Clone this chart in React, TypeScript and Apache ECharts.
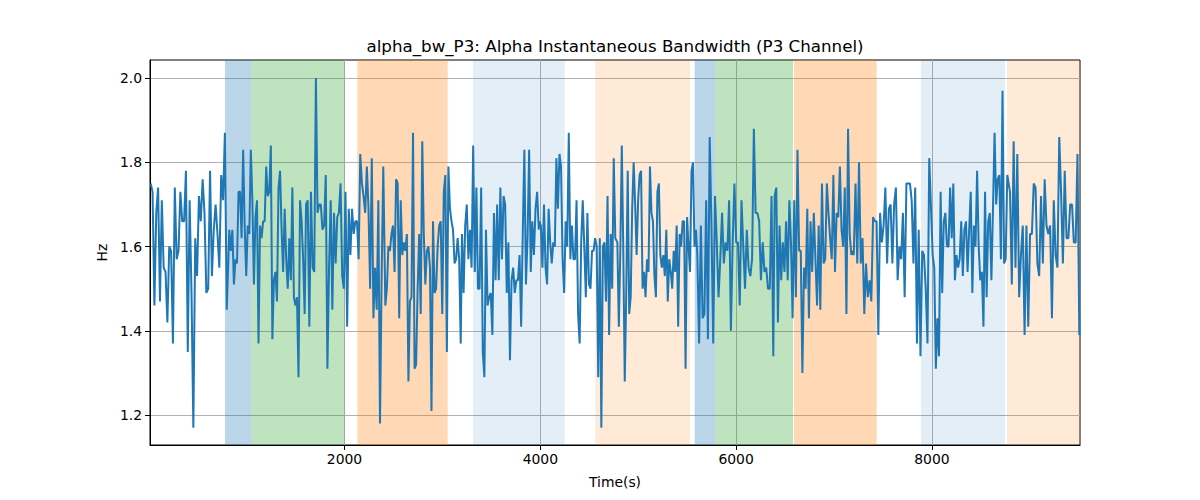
import { useEffect, useRef } from "react";
import * as echarts from "echarts";

// Signal values, read segment by segment from left to right
const seg01 = [1.75,1.73,1.46,1.68,1.74,1.47,1.71,1.55,1.54,1.42,1.60,1.59,1.37,1.74,1.57,1.59,1.73,1.66,1.66,1.78,1.35,1.71,1.49,1.17,1.62,1.53,1.72,1.66,1.76,1.68,1.49,1.50,1.78,1.53,1.64,1.70,1.63,1.55,1.77,1.71,1.87,1.45];
const seg02 = [1.64,1.59,1.64,1.51,1.57,1.56,1.73,1.73,1.62,1.83,1.65,1.53,1.65,1.63,1.83,1.71,1.51,1.67,1.71,1.37,1.65,1.62,1.66,1.66,1.79,1.72,1.73,1.84,1.38,1.52,1.54,1.47,1.74,1.78,1.64,1.54,1.69,1.57,1.50,1.62,1.52,1.74,1.48,1.46,1.48,1.29,1.71,1.66,1.57,1.44];
const seg03 = [1.70,1.71,1.41,1.73,1.55,1.54,2.00,1.68,1.70,1.70,1.64,1.65,1.77,1.31,1.55,1.71,1.45,1.68,1.56,1.67,1.68,1.75,1.53,1.50,1.73,1.41,1.69,1.58,1.69,1.63,1.66,1.66,1.57,1.82,1.75,1.72,1.68,1.79,1.69,1.50,1.81,1.43,1.55,1.45,1.71,1.18,1.53,1.79];
const seg04 = [1.46,1.50,1.60,1.59,1.63,1.65,1.54,1.76,1.75,1.43,1.71,1.58,1.61,1.59,1.63,1.28,1.47,1.48,1.87,1.31,1.32,1.50,1.63,1.44,1.85,1.63,1.51,1.59,1.60,1.55,1.21,1.66,1.49,1.50,1.60,1.65,1.66,1.44,1.73,1.77,1.35,1.79,1.69,1.66,1.64,1.56,1.57,1.62,1.57,1.37];
const seg05 = [1.63,1.49,1.65,1.70,1.57,1.64,1.55,1.84,1.54,1.74,1.50,1.50,1.74,1.35,1.29,1.64,1.46,1.48,1.49,1.39,1.68,1.52,1.70,1.52,1.74,1.57,1.72,1.70,1.49,1.61,1.33,1.52,1.55,1.49,1.52,1.52,1.58,1.41,1.63,1.83,1.51,1.62,1.83,1.54,1.66,1.58,1.69,1.73,1.64];
const seg06 = [1.66,1.65,1.55,1.70,1.55,1.51,1.69,1.61,1.56,1.61,1.60,1.81,1.69,1.82,1.79,1.57,1.49,1.66,1.60,1.87,1.57,1.65,1.57,1.57,1.71,1.44,1.37,1.61,1.71,1.60,1.48,1.68,1.51,1.50,1.59,1.59,1.62,1.60,1.29,1.62,1.17,1.60,1.61,1.47,1.72,1.39,1.63,1.50,1.81,1.62];
const seg07 = [1.61,1.41,1.59,1.84,1.59,1.28,1.49,1.78,1.44,1.48,1.69,1.80,1.70,1.58,1.71,1.77,1.78,1.50,1.54,1.48,1.57,1.54,1.79,1.68,1.66,1.53,1.48,1.73,1.75,1.58,1.55,1.58,1.53,1.64,1.47,1.57,1.54,1.50,1.59,1.54,1.65,1.41,1.63,1.60,1.66,1.66,1.31,1.67,1.60,1.54,1.78,1.80,1.60,1.64];
const seg08 = [1.58,1.37,1.65,1.43,1.44,1.71,1.38,1.86,1.65,1.37,1.72,1.61,1.48,1.57,1.68,1.56,1.61,1.59,1.71,1.40,1.61,1.75,1.61,1.61,1.46,1.71,1.60,1.50,1.64,1.55,1.53,1.57,1.88,1.68,1.68,1.66,1.52,1.61,1.54,1.55,1.50,1.50,1.72,1.34];
const seg09 = [1.72,1.74,1.42,1.65,1.52,1.61,1.54,1.66,1.52,1.71,1.61,1.43,1.71,1.48,1.83,1.59,1.59,1.30,1.55,1.50,1.69,1.43,1.66,1.54,1.68,1.57,1.46,1.65,1.45,1.75,1.56,1.57,1.75,1.68,1.62,1.57,1.77,1.54,1.68,1.67,1.79,1.64,1.60,1.74,1.44,1.88,1.63,1.58];
const seg10 = [1.59,1.58,1.75,1.56,1.80,1.56,1.62,1.44,1.56,1.48,1.52,1.47,1.67,1.66,1.66,1.39,1.68,1.61,1.65,1.74,1.56,1.69,1.70,1.56,1.70,1.74,1.52,1.60,1.57,1.68,1.48,1.75,1.75,1.75,1.71,1.56,1.74,1.37,1.64,1.34,1.59,1.58,1.50,1.37,1.81];
const seg11 = [1.58,1.55,1.31,1.43,1.34,1.73,1.49,1.66,1.68,1.60,1.60,1.74,1.62,1.75,1.52,1.58,1.55,1.57,1.66,1.53,1.64,1.66,1.54,1.64,1.73,1.49,1.65,1.60,1.78,1.60,1.52,1.54,1.41,1.73,1.48,1.66,1.68,1.52,1.69,1.87,1.70,1.76,1.77,1.57,1.97,1.56,1.57,1.77];
const seg12 = [1.73,1.51,1.85,1.55,1.82,1.48,1.58,1.65,1.39,1.65,1.41,1.63,1.63,1.75,1.74,1.56,1.53,1.72,1.56,1.76,1.65,1.63,1.65,1.43,1.71,1.58,1.55,1.86,1.73,1.56,1.78,1.62,1.62,1.70,1.70,1.61,1.61,1.82,1.39];

const segments = [seg01, seg02, seg03, seg04, seg05, seg06, seg07, seg08, seg09, seg10, seg11, seg12];
// time span (s) covered by each segment
const segStart = [20, 823, 1607, 2417, 3200, 3990, 4787, 5604, 6394, 7184, 8008, 8798];
const segEnd = [797, 1593, 2396, 3187, 3984, 4766, 5590, 6380, 7177, 7973, 8770, 9506];

// shaded state bands
const bandStart = [779, 1052, 2131, 3313, 4562, 5577, 5788, 6591, 7889, 8767];
const bandEnd = [1052, 2000, 3054, 4249, 5529, 5788, 6581, 7436, 8747, 9520];
const bandKind = ["blue", "green", "orange", "lightblue", "lightorange", "blue", "green", "orange", "lightblue", "lightorange"];

const xTicks = [2000, 4000, 6000, 8000];
const yTicks = [1.2, 1.4, 1.6, 1.8, 2.0];

const X_MIN = 13;
const X_MAX = 9513;
const Y_MIN = 1.129;
const Y_MAX = 2.043;

const TITLE = "alpha_bw_P3: Alpha Instantaneous Bandwidth (P3 Channel)";

const bandColors: Record<string, string> = {
  blue: "rgba(31,119,180,0.3)",
  green: "rgba(44,160,44,0.3)",
  orange: "rgba(255,127,14,0.3)",
  lightblue: "rgba(31,119,180,0.12)",
  lightorange: "rgba(255,127,14,0.16)",
};

const FONT = "DejaVu Sans";

export default function App() {
  const ref = useRef<HTMLDivElement>(null);
  useEffect(() => {
    document.body.style.margin = "0";
    const chart = echarts.init(ref.current!, null, { renderer: "svg" });
    const data: number[][] = [];
    segments.forEach((vals, s) => {
      const n = vals.length;
      vals.forEach((v, i) => {
        data.push([segStart[s] + ((segEnd[s] - segStart[s]) * i) / (n - 1), v]);
      });
    });
    const areas = bandStart.map((b, i) => [
      { xAxis: b, itemStyle: { color: bandColors[bandKind[i]] } },
      { xAxis: Math.min(bandEnd[i], X_MAX) },
    ]);
    chart.setOption({
      animation: false,
      backgroundColor: "#ffffff",
      textStyle: { fontFamily: FONT },
      graphic: [
        {
          type: "text",
          x: 615,
          y: 46,
          style: {
            text: TITLE,
            fontFamily: FONT,
            fontSize: 16.7,
            fill: "#000",
            align: "center",
            verticalAlign: "middle",
          },
        },
      ],
      grid: {
        left: 150,
        right: 120,
        top: 60,
        bottom: 55,
        show: true,
        borderColor: "#000",
        borderWidth: 1,
        backgroundColor: "transparent",
      },
      xAxis: {
        type: "value",
        min: X_MIN,
        max: X_MAX,
        name: "Time(s)",
        nameLocation: "middle",
        nameGap: 30,
        nameTextStyle: { fontFamily: FONT, fontSize: 13.9, color: "#000" },
        axisLine: { show: true, lineStyle: { color: "#000", width: 1 } },
        axisTick: { show: true, customValues: xTicks, length: 5, lineStyle: { color: "#000" } },
        axisLabel: {
          customValues: xTicks,
          fontFamily: FONT,
          fontSize: 13.9,
          color: "#000",
          margin: 7,
          formatter: (v: number) => String(v),
        },
        splitLine: { show: true, lineStyle: { color: "#b0b0b0", width: 1 } },
      },
      yAxis: {
        type: "value",
        min: Y_MIN,
        max: Y_MAX,
        name: "Hz",
        nameLocation: "middle",
        nameGap: 38,
        nameTextStyle: { fontFamily: FONT, fontSize: 13.9, color: "#000" },
        axisLine: { show: true, lineStyle: { color: "#000", width: 1 } },
        axisTick: { show: true, customValues: yTicks, length: 5, lineStyle: { color: "#000" } },
        axisLabel: {
          customValues: yTicks,
          fontFamily: FONT,
          fontSize: 13.9,
          color: "#000",
          margin: 8,
          formatter: (v: number) => v.toFixed(1),
        },
        splitLine: { show: true, lineStyle: { color: "#b0b0b0", width: 1 } },
      },
      series: [
        {
          type: "line",
          data: [],
          silent: true,
          z: -1,
          markArea: { silent: true, data: areas },
        },
        {
          type: "line",
          data,
          showSymbol: false,
          symbol: "none",
          lineStyle: { color: "#1f77b4", width: 2 },
          itemStyle: { color: "#1f77b4" },
        },
      ],
    });
    return () => chart.dispose();
  }, []);
  return <div ref={ref} style={{ width: 1200, height: 500 }} />;
}
